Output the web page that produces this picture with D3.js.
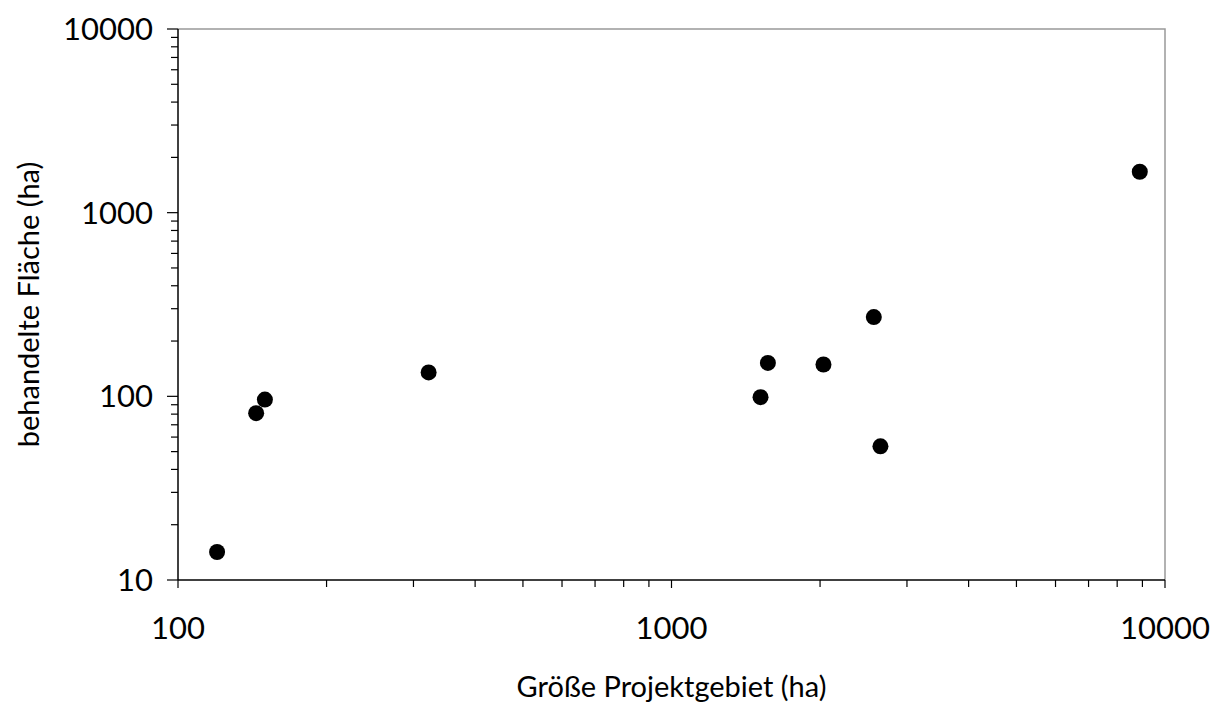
<!DOCTYPE html>
<meta charset="utf-8">
<style>
body { margin: 0; background: #fff; }
text { font-family: Lato, "Noto Sans", sans-serif; fill: #000; }
</style>
<body>
<svg></svg>
</body>
<script src="https://cdn.jsdelivr.net/npm/d3@7/dist/d3.min.js"></script>
<script>

// Projektgebiet (ha) vs. behandelte Fläche (ha)
var projektgebiet = [120, 144, 150, 322, 1515, 1568, 2032, 2570, 2651, 8890];
var flaeche       = [14.2, 81, 96, 135, 99, 152, 149, 270, 53.4, 1670];

var xTicks = [100, 1000, 10000];
var yTicks = [10, 100, 1000, 10000];

var width = 1213, height = 705;
var margin = {top: 29, right: 48, bottom: 125, left: 178};

var svg = d3.select("svg")
    .attr("width", width)
    .attr("height", height);

var x = d3.scaleLog().domain([100, 10000]).range([margin.left, width - margin.right]);
var y = d3.scaleLog().domain([10, 10000]).range([height - margin.bottom, margin.top]);

// minor ticks 2..9 for each decade
function minor(domain) {
  var out = [];
  for (var d = domain[0]; d < domain[1]; d *= 10)
    for (var k = 2; k <= 9; k++) out.push(d * k);
  return out;
}

// frame (top + right in grey)
svg.append("path")
    .attr("d", "M" + x(100) + "," + y(10000) + "H" + x(10000) + "V" + y(10))
    .attr("fill", "none")
    .attr("stroke", "#999")
    .attr("stroke-width", 1.5);

// x axis
var gx = svg.append("g").attr("transform", "translate(0," + y(10) + ")");
gx.append("line").attr("x1", x(100)).attr("x2", x(10000)).attr("stroke", "#000").attr("stroke-width", 1.5);
gx.selectAll(".minor").data(minor([100, 10000])).enter().append("line")
    .attr("x1", function(d) { return x(d); }).attr("x2", function(d) { return x(d); })
    .attr("y1", 0).attr("y2", 7).attr("stroke", "#000").attr("stroke-width", 1.2);
gx.selectAll(".major").data(xTicks).enter().append("line")
    .attr("x1", function(d) { return x(d); }).attr("x2", function(d) { return x(d); })
    .attr("y1", 0).attr("y2", 8).attr("stroke", "#000").attr("stroke-width", 1.2);
gx.selectAll("text").data(xTicks).enter().append("text")
    .attr("x", function(d) { return x(d); })
    .attr("y", 59)
    .attr("text-anchor", "middle")
    .style("font-size", "31px")
    .text(function(d) { return d; });

// y axis
var gy = svg.append("g").attr("transform", "translate(" + x(100) + ",0)");
gy.append("line").attr("y1", y(10)).attr("y2", y(10000)).attr("stroke", "#000").attr("stroke-width", 1.5);
gy.selectAll(".minor").data(minor([10, 10000])).enter().append("line")
    .attr("y1", function(d) { return y(d); }).attr("y2", function(d) { return y(d); })
    .attr("x1", 0).attr("x2", -7).attr("stroke", "#000").attr("stroke-width", 1.2);
gy.selectAll(".major").data(yTicks).enter().append("line")
    .attr("y1", function(d) { return y(d); }).attr("y2", function(d) { return y(d); })
    .attr("x1", 0).attr("x2", -11).attr("stroke", "#000").attr("stroke-width", 1.2);
gy.selectAll("text").data(yTicks).enter().append("text")
    .attr("x", -25)
    .attr("y", function(d) { return y(d); })
    .attr("dy", "0.36em")
    .attr("text-anchor", "end")
    .style("font-size", "31px")
    .text(function(d) { return d; });

// titles
svg.append("text")
    .attr("x", x(1000))
    .attr("y", 697)
    .attr("text-anchor", "middle")
    .style("font-size", "29px")
    .text("Größe Projektgebiet (ha)");

svg.append("text")
    .attr("transform", "translate(39," + (margin.top + height - margin.bottom) / 2 + ") rotate(-90)")
    .attr("text-anchor", "middle")
    .style("font-size", "29px")
    .text("behandelte Fläche (ha)");

// points
svg.append("g").selectAll("circle")
    .data(d3.zip(projektgebiet, flaeche))
    .enter().append("circle")
    .attr("cx", function(d) { return x(d[0]); })
    .attr("cy", function(d) { return y(d[1]); })
    .attr("r", 8)
    .attr("fill", "#000");

</script>
